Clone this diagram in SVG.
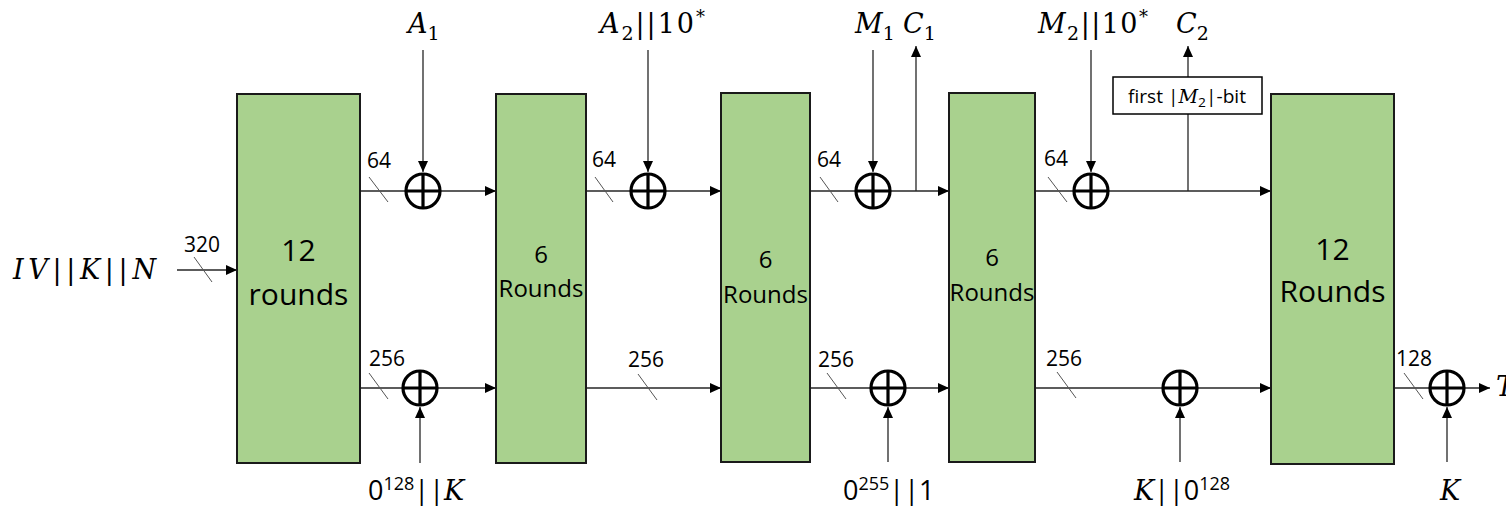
<svg xmlns="http://www.w3.org/2000/svg" xmlns:xlink="http://www.w3.org/1999/xlink" width="1506" height="506" viewBox="0 0 1506 506">
<style>
.box{fill:#a9d18e;stroke:#1a1a1a;stroke-width:2}
.wire{stroke:#262626;stroke-width:1.3;fill:none}
.slash{stroke:#555;stroke-width:1}
.num{font-family:"Open Sans","Liberation Sans",sans-serif;font-size:21px;fill:#000}
.big{font-family:"Open Sans","Liberation Sans",sans-serif;font-size:30px;fill:#000;text-anchor:middle}
.mid{font-family:"Open Sans","Liberation Sans",sans-serif;font-size:24px;fill:#000;text-anchor:middle}
.math{font-family:"DejaVu Serif","Liberation Serif",serif;font-style:italic;font-size:27px;fill:#000}
.up{font-style:normal}
.sub{font-style:normal;font-size:19px}
.sans{font-family:"Open Sans","Liberation Sans",sans-serif;font-size:27px;fill:#000}
.sup{font-size:18px}
.xc{fill:none;stroke:#000;stroke-width:3.2}
</style>
<defs>
<marker id="ah" viewBox="0 0 11 10" refX="11" refY="5" markerWidth="11" markerHeight="10" markerUnits="userSpaceOnUse" orient="auto"><path d="M0,0 L11,5 L0,10 z" fill="#000"/></marker>
<g id="xor"><circle class="xc" r="17"/><line class="xc" x1="-17" y1="0" x2="17" y2="0"/><line class="xc" x1="0" y1="-17" x2="0" y2="17"/></g>
</defs>

<g id="connectors">
<line class="wire" x1="177" y1="270" x2="237" y2="270" marker-end="url(#ah)"/>
<line class="wire" x1="360" y1="191" x2="496" y2="191" marker-end="url(#ah)"/>
<line class="wire" x1="586" y1="191" x2="721" y2="191" marker-end="url(#ah)"/>
<line class="wire" x1="810" y1="191" x2="949" y2="191" marker-end="url(#ah)"/>
<line class="wire" x1="1035" y1="191" x2="1271" y2="191" marker-end="url(#ah)"/>
<line class="wire" x1="360" y1="388" x2="496" y2="388" marker-end="url(#ah)"/>
<line class="wire" x1="586" y1="388" x2="721" y2="388" marker-end="url(#ah)"/>
<line class="wire" x1="810" y1="388" x2="949" y2="388" marker-end="url(#ah)"/>
<line class="wire" x1="1035" y1="388" x2="1271" y2="388" marker-end="url(#ah)"/>
<line class="wire" x1="1394" y1="388" x2="1490" y2="388" marker-end="url(#ah)"/>
<line class="wire" x1="423" y1="50" x2="423" y2="172" marker-end="url(#ah)"/>
<line class="wire" x1="648" y1="50" x2="648" y2="172" marker-end="url(#ah)"/>
<line class="wire" x1="873" y1="50" x2="873" y2="172" marker-end="url(#ah)"/>
<line class="wire" x1="1091" y1="50" x2="1091" y2="172" marker-end="url(#ah)"/>
<line class="wire" x1="916" y1="191" x2="916" y2="46" marker-end="url(#ah)"/>
<line class="wire" x1="1188" y1="191" x2="1188" y2="114"/>
<line class="wire" x1="1188" y1="77" x2="1188" y2="46" marker-end="url(#ah)"/>
<line class="wire" x1="420" y1="463" x2="420" y2="407" marker-end="url(#ah)"/>
<line class="wire" x1="888" y1="462" x2="888" y2="407" marker-end="url(#ah)"/>
<line class="wire" x1="1180" y1="462" x2="1180" y2="407" marker-end="url(#ah)"/>
<line class="wire" x1="1447" y1="462" x2="1447" y2="407" marker-end="url(#ah)"/>
<line class="slash" x1="194" y1="257" x2="212" y2="282"/>
<line class="slash" x1="369" y1="177" x2="388" y2="202"/>
<line class="slash" x1="595" y1="177" x2="613" y2="202"/>
<line class="slash" x1="820" y1="177" x2="838" y2="202"/>
<line class="slash" x1="1048" y1="177" x2="1067" y2="202"/>
<line class="slash" x1="369" y1="373" x2="388" y2="399"/>
<line class="slash" x1="638" y1="374" x2="657" y2="400"/>
<line class="slash" x1="827" y1="373" x2="846" y2="399"/>
<line class="slash" x1="1057" y1="372" x2="1076" y2="398"/>
<line class="slash" x1="1404" y1="373" x2="1423" y2="399"/>
<text class="num" x="184" y="252">320</text>
<text class="num" x="367" y="168">64</text>
<text class="num" x="592" y="167">64</text>
<text class="num" x="817" y="167">64</text>
<text class="num" x="1044" y="166">64</text>
<text class="num" x="369" y="366">256</text>
<text class="num" x="628" y="367">256</text>
<text class="num" x="818" y="367">256</text>
<text class="num" x="1046" y="366">256</text>
<text class="num" x="1396" y="366">128</text>
</g>

<g id="round1"><rect class="box" x="237" y="94" width="123" height="369"/><text class="big" x="298.5" y="261">12</text><text class="big" x="298.5" y="305">rounds</text></g>
<g id="round2"><rect class="box" x="496" y="94" width="90" height="369"/><text class="mid" x="541" y="263">6</text><text class="mid" x="541" y="297">Rounds</text></g>
<g id="round3"><rect class="box" x="721" y="93" width="89" height="369"/><text class="mid" x="765.5" y="268">6</text><text class="mid" x="765.5" y="303">Rounds</text></g>
<g id="round4"><rect class="box" x="949" y="93" width="86" height="369"/><text class="mid" x="992" y="266">6</text><text class="mid" x="992" y="301">Rounds</text></g>
<g id="round5"><rect class="box" x="1271" y="94" width="123" height="370"/><text class="big" x="1332.5" y="260">12</text><text class="big" x="1332.5" y="302">Rounds</text></g>

<g id="truncate"><rect x="1113" y="77" width="149" height="37" fill="#fff" stroke="#000" stroke-width="1.5"/><text x="1128" y="103" font-family="Open Sans, Liberation Sans, sans-serif" font-size="18" textLength="118" lengthAdjust="spacingAndGlyphs">first |<tspan font-family="DejaVu Serif, serif" font-style="italic">M</tspan><tspan font-size="13" dy="4">2</tspan><tspan dy="-4">|-bit</tspan></text></g>

<g id="xor1"><use xlink:href="#xor" x="423" y="191"/></g>
<g id="xor2"><use xlink:href="#xor" x="648" y="191"/></g>
<g id="xor3"><use xlink:href="#xor" x="873" y="191"/></g>
<g id="xor4"><use xlink:href="#xor" x="1091" y="191"/></g>
<g id="xor5"><use xlink:href="#xor" x="420" y="388"/></g>
<g id="xor6"><use xlink:href="#xor" x="888" y="388"/></g>
<g id="xor7"><use xlink:href="#xor" x="1180" y="388"/></g>
<g id="xor8"><use xlink:href="#xor" x="1447" y="388"/></g>

<g id="labels">
<text class="math" x="13" y="279" textLength="143" lengthAdjust="spacing">IV<tspan class="up">||</tspan>K<tspan class="up">||</tspan>N</text>
<text class="math" x="408" y="33">A<tspan class="sub" dy="7">1</tspan></text>
<text class="math" x="600" y="33" textLength="105" lengthAdjust="spacing">A<tspan class="sub" dy="7">2</tspan><tspan class="up" dy="-7">||10</tspan><tspan class="up" font-size="18" dy="-10">*</tspan></text>
<text class="math" x="855" y="33">M<tspan class="sub" dy="7">1</tspan></text>
<text class="math" x="903" y="33">C<tspan class="sub" dy="7">1</tspan></text>
<text class="math" x="1038" y="33" textLength="110" lengthAdjust="spacing">M<tspan class="sub" dy="7">2</tspan><tspan class="up" dy="-7">||10</tspan><tspan class="up" font-size="18" dy="-10">*</tspan></text>
<text class="math" x="1176" y="33">C<tspan class="sub" dy="7">2</tspan></text>
<text class="sans" x="368" y="500">0<tspan class="sup" dy="-10">128</tspan><tspan dy="10">||</tspan><tspan font-family="DejaVu Serif, serif" font-style="italic" font-size="27">K</tspan></text>
<text class="sans" x="843" y="500">0<tspan class="sup" dy="-10">255</tspan><tspan dy="10">||1</tspan></text>
<text class="sans" x="1134" y="500"><tspan font-family="DejaVu Serif, serif" font-style="italic" font-size="27">K</tspan>||0<tspan class="sup" dy="-10">128</tspan></text>
<text class="math" x="1440" y="500">K</text>
<text class="math" x="1496" y="396">T</text>
</g>
</svg>
